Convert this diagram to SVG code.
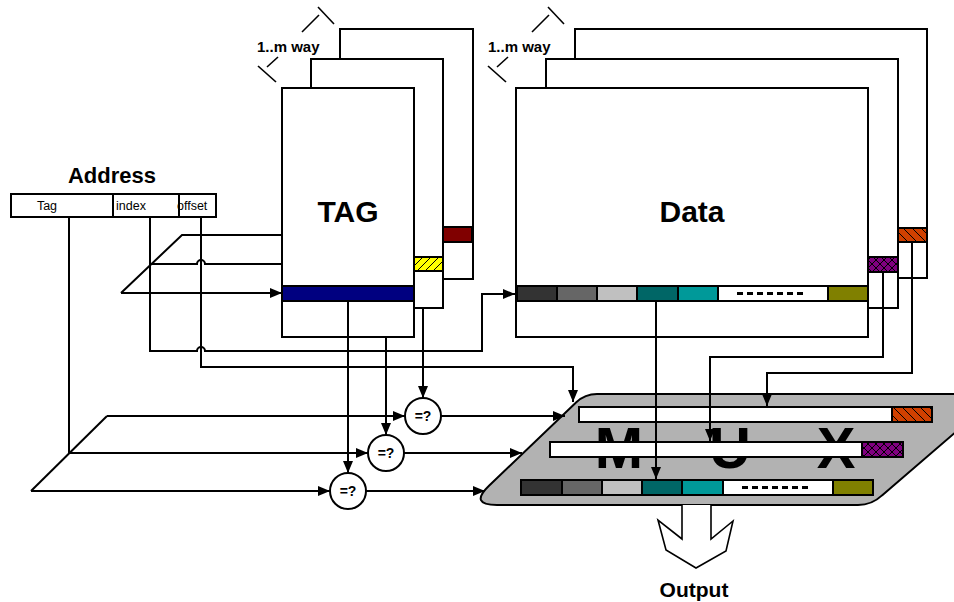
<svg xmlns="http://www.w3.org/2000/svg" width="954" height="602" viewBox="0 0 954 602">
  <defs>
    <style>
      text { font-family: "Liberation Sans", Arial, sans-serif; fill: #000; }
      .b { font-weight: bold; }
      .box { fill: #fff; stroke: #000; stroke-width: 2; }
      .w { fill: none; stroke: #000; stroke-width: 2; }
      .thin { fill: none; stroke: #000; stroke-width: 1.6; }
      .arr { marker-end: url(#ah); }
      .seg { stroke: #000; stroke-width: 2; }
      .cmp { fill: #fff; stroke: #000; stroke-width: 2; }
      .dots { fill: none; stroke: #000; stroke-width: 3; stroke-dasharray: 6 4; }
    </style>
    <marker id="ah" markerUnits="userSpaceOnUse" viewBox="0 0 12 10" refX="12" refY="5" markerWidth="12" markerHeight="10" orient="auto">
      <path d="M0,0 L12,5 L0,10 z" fill="#000"/>
    </marker>
    <pattern id="hYellow" patternUnits="userSpaceOnUse" width="8" height="8">
      <rect width="8" height="8" fill="#FFFF00"/>
      <path d="M-2,2 L2,-2 M0,8 L8,0 M6,10 L10,6" stroke="#000" stroke-width="1"/>
    </pattern>
    <pattern id="hOrange" patternUnits="userSpaceOnUse" width="9" height="9">
      <rect width="9" height="9" fill="#D04000"/>
      <path d="M0,0 L9,9 M-1,8 L1,10 M8,-1 L10,1" stroke="#000" stroke-width="1"/>
    </pattern>
    <pattern id="hPurple" patternUnits="userSpaceOnUse" width="8" height="8">
      <rect width="8" height="8" fill="#800080"/>
      <path d="M0,0 L8,8 M8,0 L0,8" stroke="#000" stroke-width="1"/>
    </pattern>
  </defs>

  <rect width="954" height="602" fill="#fff"/>

  <!-- address word -->
  <g id="address">
    <text class="b" x="112" y="183" font-size="22" text-anchor="middle">Address</text>
    <rect class="box" x="11" y="194" width="205" height="23"/>
    <line class="seg" x1="113" y1="194" x2="113" y2="217"/>
    <line class="seg" x1="179" y1="194" x2="179" y2="217"/>
    <text x="47" y="210" font-size="12.5" text-anchor="middle">Tag</text>
    <text x="116" y="210" font-size="12.5">index</text>
    <text x="177" y="210" font-size="12.5">offset</text>
  </g>

  <!-- tag array: m ways stacked -->
  <g id="tag-array">
    <rect class="box" x="340" y="29" width="133" height="250"/>
    <rect x="443" y="227" width="29" height="15" fill="#800000" stroke="#000" stroke-width="2"/>
    <rect class="box" x="311" y="59" width="132" height="249"/>
    <rect x="414" y="257" width="29" height="14" fill="url(#hYellow)" stroke="#000" stroke-width="2"/>
    <rect class="box" x="282" y="88" width="132" height="249"/>
    <rect x="282" y="286" width="132" height="15" fill="#000080" stroke="#000" stroke-width="2"/>
    <text class="b" x="348" y="222" font-size="30" text-anchor="middle">TAG</text>
    <g id="tag-ways">
      <line class="thin" x1="267" y1="67" x2="278" y2="57"/>
      <line class="thin" x1="302" y1="32" x2="319" y2="15"/>
      <line class="thin" x1="258" y1="66" x2="276" y2="82"/>
      <line class="thin" x1="318" y1="7" x2="334" y2="24"/>
      <text class="b" x="257" y="52" font-size="15">1..m way</text>
    </g>
  </g>

  <!-- data array: m ways stacked -->
  <g id="data-array">
    <rect class="box" x="575" y="29" width="352" height="249"/>
    <rect x="898" y="228" width="29" height="14" fill="url(#hOrange)" stroke="#000" stroke-width="2"/>
    <rect class="box" x="546" y="59" width="352" height="249"/>
    <rect x="868" y="257" width="30" height="15" fill="url(#hPurple)" stroke="#000" stroke-width="2"/>
    <rect class="box" x="516" y="88" width="352" height="249"/>
    <g id="data-line">
      <rect class="seg" x="517" y="286" width="40" height="15" fill="#333333"/>
      <rect class="seg" x="557" y="286" width="40" height="15" fill="#666666"/>
      <rect class="seg" x="597" y="286" width="40" height="15" fill="#C0C0C0"/>
      <rect class="seg" x="637" y="286" width="41" height="15" fill="#006666"/>
      <rect class="seg" x="678" y="286" width="40" height="15" fill="#009999"/>
      <rect class="seg" x="718" y="286" width="110" height="15" fill="#FFFFFF"/>
      <rect class="seg" x="828" y="286" width="40" height="15" fill="#808000"/>
      <line class="dots" x1="737" y1="293.5" x2="807" y2="293.5"/>
    </g>
    <text class="b" x="692" y="222" font-size="30" text-anchor="middle">Data</text>
    <g id="data-ways">
      <line class="thin" x1="497" y1="67" x2="508" y2="57"/>
      <line class="thin" x1="532" y1="32" x2="549" y2="15"/>
      <line class="thin" x1="488" y1="66" x2="506" y2="82"/>
      <line class="thin" x1="548" y1="7" x2="564" y2="24"/>
      <text class="b" x="488" y="52" font-size="15">1..m way</text>
    </g>
  </g>

  <!-- multiplexer -->
  <g id="mux">
    <path d="M597,394 L1000,394 L882,495.4 Q872,505 858,505 L497,505 Q469,505 489,485.7 L576.3,402.3 Q585,394 597,394 Z" fill="#B2B2B2" stroke="#000" stroke-width="2"/>
    <text class="b" x="619" y="468" font-size="58" text-anchor="middle">M</text>
    <text class="b" x="730" y="468" font-size="58" text-anchor="middle">U</text>
    <text class="b" x="836" y="468" font-size="58" text-anchor="middle">X</text>
    <rect class="seg" x="579" y="407" width="313" height="15" fill="#fff"/>
    <rect class="seg" x="892" y="407" width="40" height="15" fill="url(#hOrange)"/>
    <rect class="seg" x="550" y="442" width="312" height="15" fill="#fff"/>
    <rect class="seg" x="862" y="442" width="41" height="15" fill="url(#hPurple)"/>
    <rect class="seg" x="521" y="480" width="41" height="15" fill="#333333"/>
    <rect class="seg" x="562" y="480" width="40" height="15" fill="#666666"/>
    <rect class="seg" x="602" y="480" width="40" height="15" fill="#C0C0C0"/>
    <rect class="seg" x="642" y="480" width="40" height="15" fill="#006666"/>
    <rect class="seg" x="682" y="480" width="41" height="15" fill="#009999"/>
    <rect class="seg" x="723" y="480" width="110" height="15" fill="#FFFFFF"/>
    <rect class="seg" x="833" y="480" width="40" height="15" fill="#808000"/>
    <line class="dots" x1="742" y1="487.5" x2="812" y2="487.5"/>
  </g>

  <!-- output arrow -->
  <g id="output">
    <path d="M682,505 V539 L658,520 L666,550 L696,568 L726,551 L733,521 L711,539 V505" fill="#fff" stroke="#000" stroke-width="1.6"/>
    <text class="b" x="694" y="597" font-size="21" text-anchor="middle">Output</text>
  </g>

  <!-- connectors -->
  <g id="connectors">
    <!-- index to tag ways -->
    <path class="w" d="M121,293 L182,235 H282"/>
    <path class="w" d="M150,264 H197 A4,4 0 0 1 205,264 H282"/>
    <path class="w arr" d="M121,293 H282"/>
    <!-- index to data line -->
    <path class="w arr" d="M150,217 V351 H197 A4,4 0 0 1 205,351 H482 V294 H515"/>
    <!-- offset to mux -->
    <path class="w arr" d="M201,217 V367 H573 V402"/>
    <!-- tag field to comparators -->
    <path class="w arr" d="M69,217 V453 H368"/>
    <path class="w" d="M31,491 L107,416"/>
    <path class="w arr" d="M107,416 H405"/>
    <path class="w arr" d="M31,491 H330"/>
    <!-- stored tags to comparators -->
    <path class="w arr" d="M423,308 V398"/>
    <path class="w arr" d="M386,337 V435"/>
    <path class="w arr" d="M348,301 V473"/>
  </g>

  <g id="cmp1">
    <circle class="cmp" cx="423" cy="416" r="18"/>
    <text class="b" x="423" y="421" font-size="14" text-anchor="middle">=?</text>
  </g>
  <g id="cmp2">
    <circle class="cmp" cx="386" cy="453" r="18"/>
    <text class="b" x="386" y="458" font-size="14" text-anchor="middle">=?</text>
  </g>
  <g id="cmp3">
    <circle class="cmp" cx="348" cy="491" r="18"/>
    <text class="b" x="348" y="496" font-size="14" text-anchor="middle">=?</text>
  </g>

  <g id="connectors-out">
    <!-- hit signals to mux -->
    <path class="w arr" d="M441,416 H565"/>
    <path class="w arr" d="M404,453 H522"/>
    <path class="w arr" d="M366,491 H485"/>
    <!-- data lines to mux -->
    <path class="w arr" d="M656,301 V479"/>
    <path class="w arr" d="M883,272 V357 H710 V441"/>
    <path class="w arr" d="M912,242 V373 H767 V406"/>
  </g>
</svg>
